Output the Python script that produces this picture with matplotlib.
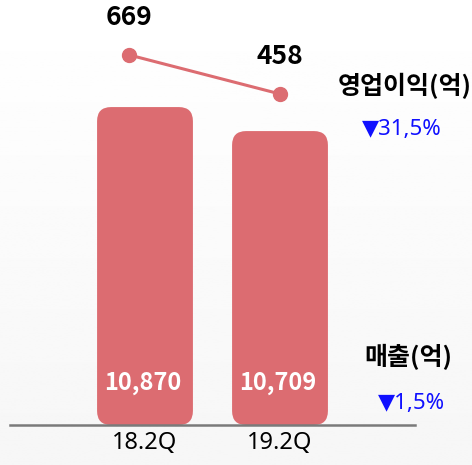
import numpy as np
import matplotlib
matplotlib.use("Agg")
import matplotlib.pyplot as plt
from matplotlib.patches import FancyBboxPatch
import matplotlib.transforms as mtransforms

plt.rcParams['font.family'] = ['Noto Sans', 'Noto Sans CJK KR', 'DejaVu Sans']
BOLD = ['Noto Sans CJK KR', 'DejaVu Sans']

# data
quarters = ['18.2Q', '19.2Q']
sales = [10870, 10709]
sales_labels = ['10,870', '10,709']
profit = [669, 458]
profit_shift = [-0.12, 0.0]   # the first marker sits a bit left of its bar

bar_color = '#dc6c71'
W, H = 472, 465

fig = plt.figure(figsize=(W / 100, H / 100), dpi=100)

# soft vertical gradient in the background
bg = fig.add_axes([0, 0, 1, 1], zorder=-10)
grad = np.linspace(1.0, 0.965, 256).reshape(-1, 1)
bg.imshow(grad, aspect='auto', cmap='gray', vmin=0, vmax=1, extent=[0, 1, 0, 1])
bg.axis('off')

# main axes: x from 10px to 415px, bottom at 425px
left, right, base = 10 / W, 415 / W, 1 - 425 / H
ax = fig.add_axes([left, base, right - left, 1 - base])
ax.patch.set_alpha(0)
ax.set_xlim(-1, 2)
ax.set_ylim(8738, 11588)
for s in ax.spines.values():
    s.set_visible(False)
ax.axhline(8738, color='#7a7a7a', lw=1.8, zorder=5, clip_on=False)

x = np.arange(len(quarters))
width = 0.71

# rounded bars (rounding in pixels kept circular via mutation_aspect)
fig.canvas.draw()
px_x = ax.transData.transform((1, 0))[0] - ax.transData.transform((0, 0))[0]
px_y = ax.transData.transform((0, 1))[1] - ax.transData.transform((0, 0))[1]
aspect = px_x / px_y
r = 14 / px_x
y_lo = ax.get_ylim()[0]
for xi, v in zip(x, sales):
    p = FancyBboxPatch((xi - width / 2, y_lo), width, v - y_lo,
                       boxstyle=f"round,pad=0,rounding_size={r}",
                       mutation_aspect=aspect, fc=bar_color, ec='none', zorder=3)
    ax.add_patch(p)

trans = mtransforms.blended_transform_factory(ax.transData, ax.transAxes)
for xi, lab in zip(x, sales_labels):
    ax.text(xi - 0.02, (425 - 383) / 425, lab, transform=trans, ha='center', va='center',
            color='white', fontsize=17, fontweight='bold', family=BOLD, zorder=6)

ax.set_xticks(x)
ax.set_xticklabels(quarters, fontsize=17)
ax.tick_params(axis='x', length=0, pad=4)
ax.set_yticks([])

# operating profit line on its own scale
ax2 = ax.twinx()
ax2.set_ylim(-1328, 965)
ax2.axis('off')
lx = x + np.array(profit_shift)
ax2.plot(lx, profit, color=bar_color, lw=2.2, marker='o', markersize=10, zorder=4)
for xi, v in zip(lx, profit):
    ax2.annotate(str(v), (xi, v), xytext=(0, 27), textcoords='offset points',
                 ha='center', va='center', fontsize=19, fontweight='bold', family=BOLD)

# legend-like side labels
fig.text(405 / W, 1 - 86 / H, '영업이익(억)', ha='center', va='center',
         fontsize=18, fontweight='bold', family=BOLD)
fig.text(402 / W, 1 - 130 / H, '▼31,5%', ha='center', va='center',
         fontsize=16, color='#1010ff', family=['Noto Sans', 'DejaVu Sans'])
fig.text(408 / W, 1 - 357 / H, '매출(억)', ha='center', va='center',
         fontsize=18, fontweight='bold', family=BOLD)
fig.text(411 / W, 1 - 403 / H, '▼1,5%', ha='center', va='center',
         fontsize=16, color='#1010ff', family=['Noto Sans', 'DejaVu Sans'])

fig.savefig('out.png', dpi=100)
